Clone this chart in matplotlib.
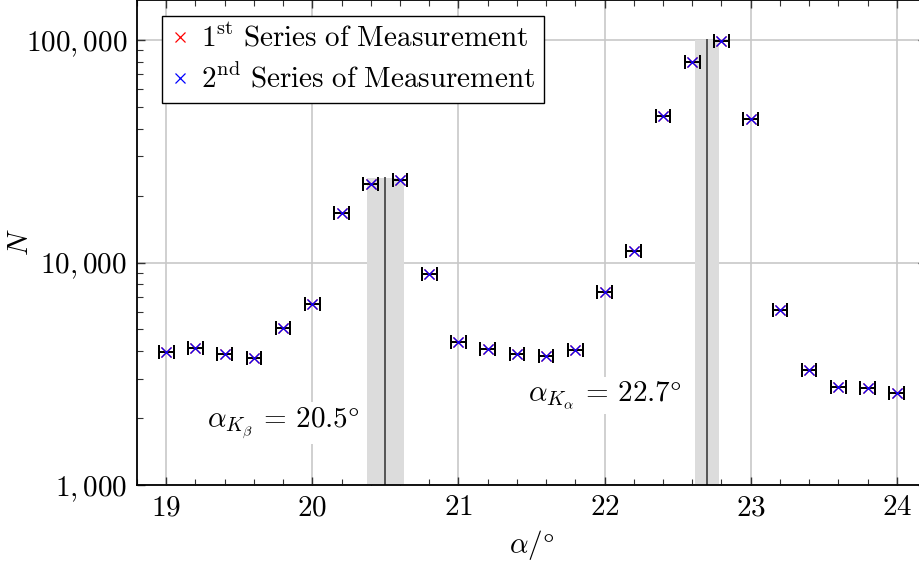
import matplotlib
matplotlib.use("Agg")
import matplotlib.pyplot as plt
from matplotlib.ticker import FixedLocator, FuncFormatter, NullFormatter
import numpy as np

plt.rcParams['mathtext.fontset'] = 'cm'
plt.rcParams['font.family'] = 'serif'
plt.rcParams['font.serif'] = ['STIXGeneral', 'DejaVu Serif']
FS = 21
plt.rcParams['font.size'] = FS

# ---- data ----
angles = [19.0, 19.2, 19.4, 19.6, 19.8, 20.0, 20.2, 20.4, 20.6, 20.8,
          21.0, 21.2, 21.4, 21.6, 21.8, 22.0, 22.2, 22.4, 22.6, 22.8,
          23.0, 23.2, 23.4, 23.6, 23.8, 24.0]
counts_series1 = [3960, 4110, 3860, 3740, 5060, 6490, 16700, 22600, 23500, 8870,
                  4380, 4090, 3870, 3800, 4030, 7350, 11300, 45500, 79600, 99000,
                  44200, 6120, 3290, 2750, 2740, 2580]
counts_series2 = [3960, 4110, 3860, 3740, 5060, 6490, 16700, 22600, 23500, 8870,
                  4380, 4090, 3870, 3800, 4030, 7350, 11300, 45500, 79600, 99000,
                  44200, 6120, 3290, 2750, 2740, 2580]
angle_error = 0.05

peak_names = [r"$\alpha_{K_\beta}\,=\,20.5$°", r"$\alpha_{K_\alpha}\,=\,22.7$°"]
peak_centers = [20.5, 22.7]
peak_halfwidths = [0.128, 0.083]
peak_heights = [23900, 100000]
label_pos_x = [19.80, 22.0]
label_pos_y = [1900, 2530]

series_labels = [r"$\mathrm{1^{st}\ Series\ of\ Measurement}$",
                 r"$\mathrm{2^{nd}\ Series\ of\ Measurement}$"]

x_ticks = [19, 20, 21, 22, 23, 24]
y_ticks = [1000, 10000, 100000]
y_tick_labels = [r"$1,000$", r"$10,000$", r"$100,000$"]

# ---- figure ----
W, H = 919, 571
fig = plt.figure(figsize=(W / 100, H / 100), dpi=100)
ax_left, ax_right, ax_top, ax_bottom = 137, 926, 0, 485
ax = fig.add_axes([ax_left / W, 1 - ax_bottom / H,
                   (ax_right - ax_left) / W, (ax_bottom - ax_top) / H])

ax.set_yscale('log')
ax.set_xlim(18.8, 24.2)
ax.set_ylim(1000, 10 ** (5 + 40 / 222.5))

# bands and lines
for c, hw, h in zip(peak_centers, peak_halfwidths, peak_heights):
    ax.fill_between([c - hw, c + hw], [1000, 1000], [h, h], color='#dcdcdc',
                    linewidth=0, zorder=1)
    ax.plot([c, c], [1000, h], color='#555555', lw=1.4, zorder=2)

# error bars
for counts in (counts_series1, counts_series2):
    ax.errorbar(angles, counts, xerr=angle_error, fmt='none', ecolor='black',
                elinewidth=1.3, capsize=5, capthick=1.4, zorder=3)

ax.plot(angles, counts_series1, linestyle='none', marker='x', color='red',
        markersize=7, markeredgewidth=0.9, label=series_labels[0], zorder=4)
ax.plot(angles, counts_series2, linestyle='none', marker='x', color='blue',
        markersize=7, markeredgewidth=0.9, label=series_labels[1], zorder=5)

for name, tx, ty in zip(peak_names, label_pos_x, label_pos_y):
    ax.text(tx, ty, name, ha='center', va='center', fontsize=FS, zorder=3,
            bbox=dict(facecolor='white', edgecolor='none', pad=2))

# ticks & grid
ax.xaxis.set_major_locator(FixedLocator(x_ticks))
ax.xaxis.set_minor_locator(FixedLocator(np.arange(18.8, 24.21, 0.2)))
ax.xaxis.set_major_formatter(FuncFormatter(lambda v, p: r"$%d$" % round(v)))
ax.yaxis.set_major_locator(FixedLocator(y_ticks))
ax.yaxis.set_major_formatter(FuncFormatter(
    lambda v, p: y_tick_labels[y_ticks.index(int(round(v)))] if int(round(v)) in y_ticks else ""))
ax.yaxis.set_minor_formatter(NullFormatter())

ax.tick_params(which='both', direction='in', top=True, right=True,
               color='#333333', labelsize=FS)
ax.tick_params(which='major', length=6, width=1.0)
ax.tick_params(which='minor', length=4, width=0.8)
ax.tick_params(axis='x', pad=8)
ax.tick_params(axis='y', pad=7)

ax.grid(True, which='major', color='#c8c8c8', linewidth=1.2, zorder=0)
ax.set_axisbelow(True)
for s in ax.spines.values():
    s.set_linewidth(1.3)
    s.set_color('black')

ax.set_xlabel(r"$\alpha/$°", fontsize=FS, labelpad=5)
ax.set_ylabel(r"$N$", fontsize=FS)
ax.yaxis.set_label_coords((34 - ax_left) / (ax_right - ax_left), 0.5)

leg = ax.legend(loc='upper left', bbox_to_anchor=(25 / 789, 1 - 16 / 485),
                borderaxespad=0, fancybox=False, framealpha=1, edgecolor='black',
                fontsize=FS, handlelength=0.6, handletextpad=0.45,
                borderpad=0.3, labelspacing=0.38)
leg.get_frame().set_linewidth(1.0)

fig.savefig("out.png", dpi=100)
